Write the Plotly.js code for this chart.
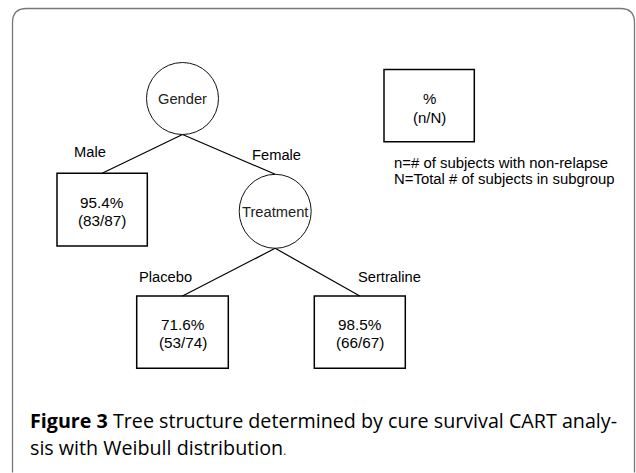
<!DOCTYPE html>
<html>
<head>
<meta charset="utf-8">
<script src="https://cdn.plot.ly/plotly-3.0.1.min.js"></script>
<style>
  html, body { margin: 0; padding: 0; background: #fff; }
  #chart { width: 636px; height: 473px; }
</style>
</head>
<body>
<div id="chart"></div>
<script>
// ---- data ----
const splitVariables = ["Gender", "Treatment"];
const branchLabels = ["Male", "Female", "Placebo", "Sertraline"];
const leafGroups = ["Male", "Placebo", "Sertraline"];
const leafPercent = [95.4, 71.6, 98.5];
const leafNonRelapse = [83, 53, 66];
const leafTotal = [87, 74, 67];
const legendLines = ["%", "(n/N)"];
const legendNotes = ["n=# of subjects with non-relapse", "N=Total # of subjects in subgroup"];
const captionBold = "Figure 3";
const captionLine1 = " Tree structure determined by cure survival CART analy-";
const captionLine2 = "sis with Weibull distribution";

// ---- layout geometry (pixel-like coordinates on hidden axes) ----
const splitGeom = [
  {cx: 182.5, cy: 98.5, rx: 36, ry: 36},
  {cx: 275.2, cy: 211.3, rx: 36, ry: 37}
];
const leafGeom = [
  {x0: 57, y0: 173.3, x1: 147.3, y1: 246},
  {x0: 136.7, y0: 296, x1: 228.3, y1: 368.3},
  {x0: 314.3, y0: 296, x1: 405.3, y1: 368.3}
];
const branchLabelPos = [
  {x: 89.5, y: 151.5}, {x: 276, y: 155}, {x: 165, y: 276.5}, {x: 389, y: 276.5}
];
const edges = [
  [0, {leaf: 0}], [0, {split: 1}], [1, {leaf: 1}], [1, {leaf: 2}]
];
const legendBox = {x0: 384, y0: 69.5, x1: 474.3, y1: 141.7};

const FONT = '"Liberation Sans", Arial, sans-serif';
const traces = [];
const shapes = [];
const annotations = [];

edges.forEach(([from, to]) => {
  const s = splitGeom[from];
  let tx, ty;
  if (to.leaf !== undefined) {
    const b = leafGeom[to.leaf];
    tx = (b.x0 + b.x1) / 2; ty = b.y0;
  } else {
    const c = splitGeom[to.split];
    tx = c.cx; ty = c.cy - c.ry;
  }
  traces.push({
    type: 'scatter', mode: 'lines',
    x: [s.cx, tx], y: [s.cy + s.ry, ty],
    line: {color: '#000', width: 1.2},
    hoverinfo: 'skip', showlegend: false
  });
});

splitVariables.forEach((name, i) => {
  const g = splitGeom[i];
  shapes.push({type: 'circle', xref: 'x', yref: 'y',
    x0: g.cx - g.rx, x1: g.cx + g.rx, y0: g.cy - g.ry, y1: g.cy + g.ry,
    line: {color: '#111', width: 1}, fillcolor: 'rgba(0,0,0,0)'});
  annotations.push({x: g.cx, y: g.cy + 0.5, xref: 'x', yref: 'y', text: name,
    showarrow: false, xanchor: 'center', yanchor: 'middle',
    font: {family: FONT, size: 14.7, color: '#222'}});
});

leafGroups.forEach((grp, i) => {
  const b = leafGeom[i];
  shapes.push({type: 'rect', xref: 'x', yref: 'y',
    x0: b.x0, x1: b.x1, y0: b.y0, y1: b.y1,
    line: {color: '#000', width: 1.5}, fillcolor: 'rgba(0,0,0,0)'});
  const cx = (b.x0 + b.x1) / 2, cy = (b.y0 + b.y1) / 2;
  annotations.push({x: cx, y: cy - 7.5, xref: 'x', yref: 'y',
    text: leafPercent[i].toFixed(1) + '%', showarrow: false,
    xanchor: 'center', yanchor: 'middle',
    font: {family: FONT, size: 15.3, color: '#000'}});
  annotations.push({x: cx, y: cy + 10.5, xref: 'x', yref: 'y',
    text: '(' + leafNonRelapse[i] + '/' + leafTotal[i] + ')', showarrow: false,
    xanchor: 'center', yanchor: 'middle',
    font: {family: FONT, size: 15.3, color: '#000'}});
});

branchLabels.forEach((lab, i) => {
  annotations.push({x: branchLabelPos[i].x, y: branchLabelPos[i].y, xref: 'x', yref: 'y',
    text: lab, showarrow: false, xanchor: 'center', yanchor: 'middle',
    font: {family: FONT, size: 14.7, color: '#000'}});
});

shapes.push({type: 'rect', xref: 'x', yref: 'y',
  x0: legendBox.x0, x1: legendBox.x1, y0: legendBox.y0, y1: legendBox.y1,
  line: {color: '#000', width: 1.5}, fillcolor: 'rgba(0,0,0,0)'});
legendLines.forEach((t, i) => {
  annotations.push({x: (legendBox.x0 + legendBox.x1) / 2, y: 98.5 + i * 18.5, xref: 'x', yref: 'y',
    text: t, showarrow: false, xanchor: 'center', yanchor: 'middle',
    font: {family: FONT, size: 15, color: '#000'}});
});
legendNotes.forEach((t, i) => {
  annotations.push({x: 391.5, y: 163 + i * 15.5, xref: 'x', yref: 'y',
    text: t, showarrow: false, xanchor: 'left', yanchor: 'middle',
    font: {family: FONT, size: 14.9, color: '#000'}});
});

const CAP = '"Open Sans", Lato, sans-serif';
annotations.push({x: 27.5, y: 420, xref: 'x', yref: 'y',
  text: '<b>' + captionBold + '</b>' + captionLine1, showarrow: false,
  xanchor: 'left', yanchor: 'middle', font: {family: CAP, size: 19.7, color: '#000'}});
annotations.push({x: 27.5, y: 447, xref: 'x', yref: 'y',
  text: captionLine2 + '<span style="font-size:11px">.</span>', showarrow: false,
  xanchor: 'left', yanchor: 'middle', font: {family: CAP, size: 19.7, color: '#000'}});

const fx0 = 12.5, fy0 = 8.5, fx1 = 634.5, fy1 = 472.5, r = 14;
shapes.unshift({type: 'path', xref: 'x', yref: 'y',
  path: `M ${fx0} ${fy1} L ${fx0} ${fy0 + r} Q ${fx0} ${fy0} ${fx0 + r} ${fy0} L ${fx1 - r} ${fy0} Q ${fx1} ${fy0} ${fx1} ${fy0 + r} L ${fx1} ${fy1}`,
  line: {color: '#777', width: 1.3}});

const layout = {
  width: 636, height: 473, autosize: false,
  margin: {l: 0, r: 0, t: 0, b: 0, pad: 0},
  paper_bgcolor: '#fff', plot_bgcolor: '#fff',
  xaxis: {range: [0, 636], visible: false, fixedrange: true},
  yaxis: {range: [473, 0], visible: false, fixedrange: true},
  shapes: shapes, annotations: annotations, showlegend: false
};
Plotly.newPlot('chart', traces, layout, {displayModeBar: false, staticPlot: true});
</script>
</body>
</html>
